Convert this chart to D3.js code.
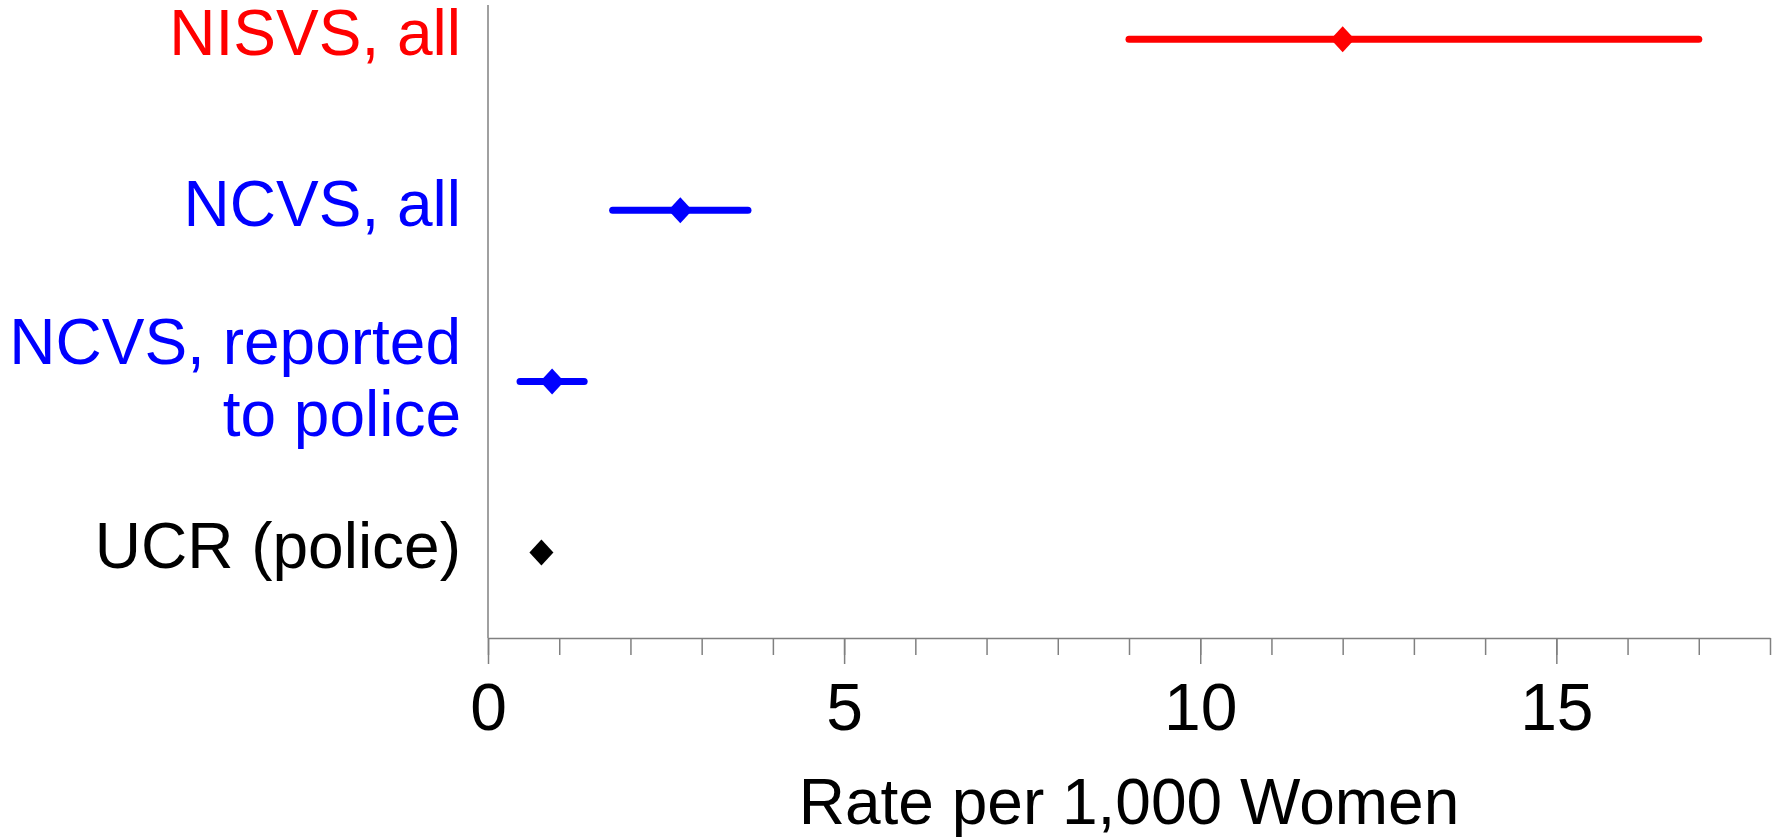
<!DOCTYPE html>
<html>
<head>
<meta charset="utf-8">
<script src="https://cdn.jsdelivr.net/npm/d3@7"></script>
<style>
  html, body { margin: 0; padding: 0; background: #fff; }
  svg { display: block; font-family: "Liberation Sans", Arial, sans-serif; }
</style>
</head>
<body>
<svg id="chart"></svg>
<script>
// data
const sources = ['NISVS, all', 'NCVS, all', 'NCVS, reported|to police', 'UCR (police)'];
const rates = [12, 2.7, 0.9, 0.75];
const lows = [9, 1.75, 0.45, null];
const highs = [17, 3.65, 1.35, null];
const colors = ['#ff0000', '#0000ff', '#0000ff', '#000000'];
const majorTicks = [0, 5, 10, 15];
const minorTicks = d3.range(0, 19);
const xTitle = 'Rate per 1,000 Women';

const width = 1779, height = 838;
const margin = { left: 488, right: 1770, top: 5, bottom: 638 };

const svg = d3.select('#chart').attr('width', width).attr('height', height);

const x = d3.scaleLinear().domain([0, 18]).range([margin.left, margin.right]);
// rows 4..1 from top, domain padded to match the reference spacing
const y = d3.scaleLinear().domain([0.5, 4.2]).range([margin.bottom, margin.top]);
const rowY = (i) => y(sources.length - i);

// y axis line only
svg.append('line')
   .attr('x1', margin.left).attr('x2', margin.left)
   .attr('y1', margin.top).attr('y2', margin.bottom)
   .attr('stroke', '#808080')
   .attr('stroke-width', 1.5);

// minor ticks
const minorAxis = svg.append('g')
   .attr('transform', `translate(0, ${margin.bottom})`)
   .call(d3.axisBottom(x).tickValues(minorTicks).tickSize(17).tickFormat('').tickSizeOuter(0));
minorAxis.selectAll('line').attr('stroke', '#808080').attr('stroke-width', 1.5);
minorAxis.select('.domain').attr('stroke', '#808080').attr('stroke-width', 1.5);

// major ticks + labels
const majorAxis = svg.append('g')
   .attr('transform', `translate(0, ${margin.bottom})`)
   .call(d3.axisBottom(x).tickValues(majorTicks).tickSize(26).tickPadding(20).tickSizeOuter(0));
majorAxis.select('.domain').remove();
majorAxis.selectAll('line').attr('stroke', '#808080').attr('stroke-width', 1.5);
majorAxis.selectAll('text')
   .attr('fill', '#000')
   .attr('font-size', 66)
   .attr('dy', null)
   .attr('y', 92)
   .attr('font-family', '"Liberation Sans", Arial, sans-serif');

// axis title
svg.append('text')
   .attr('x', (margin.left + margin.right) / 2)
   .attr('y', 824)
   .attr('text-anchor', 'middle')
   .attr('font-size', 64)
   .attr('fill', '#000')
   .text(xTitle);

// row labels
sources.forEach((s, i) => {
   const lines = s.split('|');
   const base = lines.length === 1 ? rowY(i) + 16 : rowY(i) - 17;
   const t = svg.append('text')
      .attr('text-anchor', 'end')
      .attr('font-size', 64)
      .attr('fill', colors[i]);
   lines.forEach((ln, j) => {
      t.append('tspan')
         .attr('x', 461)
         .attr('y', base + j * 72)
         .text(ln);
   });
});

// error bars
const rows = sources.map((s, i) => ({ i, rate: rates[i], lo: lows[i], hi: highs[i] }));

svg.selectAll('.bar')
   .data(rows.filter((d) => d.lo !== null))
   .join('line')
   .attr('class', 'bar')
   .attr('x1', (d) => x(d.lo))
   .attr('x2', (d) => x(d.hi))
   .attr('y1', (d) => rowY(d.i))
   .attr('y2', (d) => rowY(d.i))
   .attr('stroke', (d) => colors[d.i])
   .attr('stroke-width', 7)
   .attr('stroke-linecap', 'round');

// diamonds
const hw = 12, hh = 13;
svg.selectAll('.pt')
   .data(rows)
   .join('path')
   .attr('class', 'pt')
   .attr('d', `M0,${-hh}L${hw},0L0,${hh}L${-hw},0Z`)
   .attr('transform', (d) => `translate(${x(d.rate)}, ${rowY(d.i)})`)
   .attr('fill', (d) => colors[d.i]);
</script>
</body>
</html>
